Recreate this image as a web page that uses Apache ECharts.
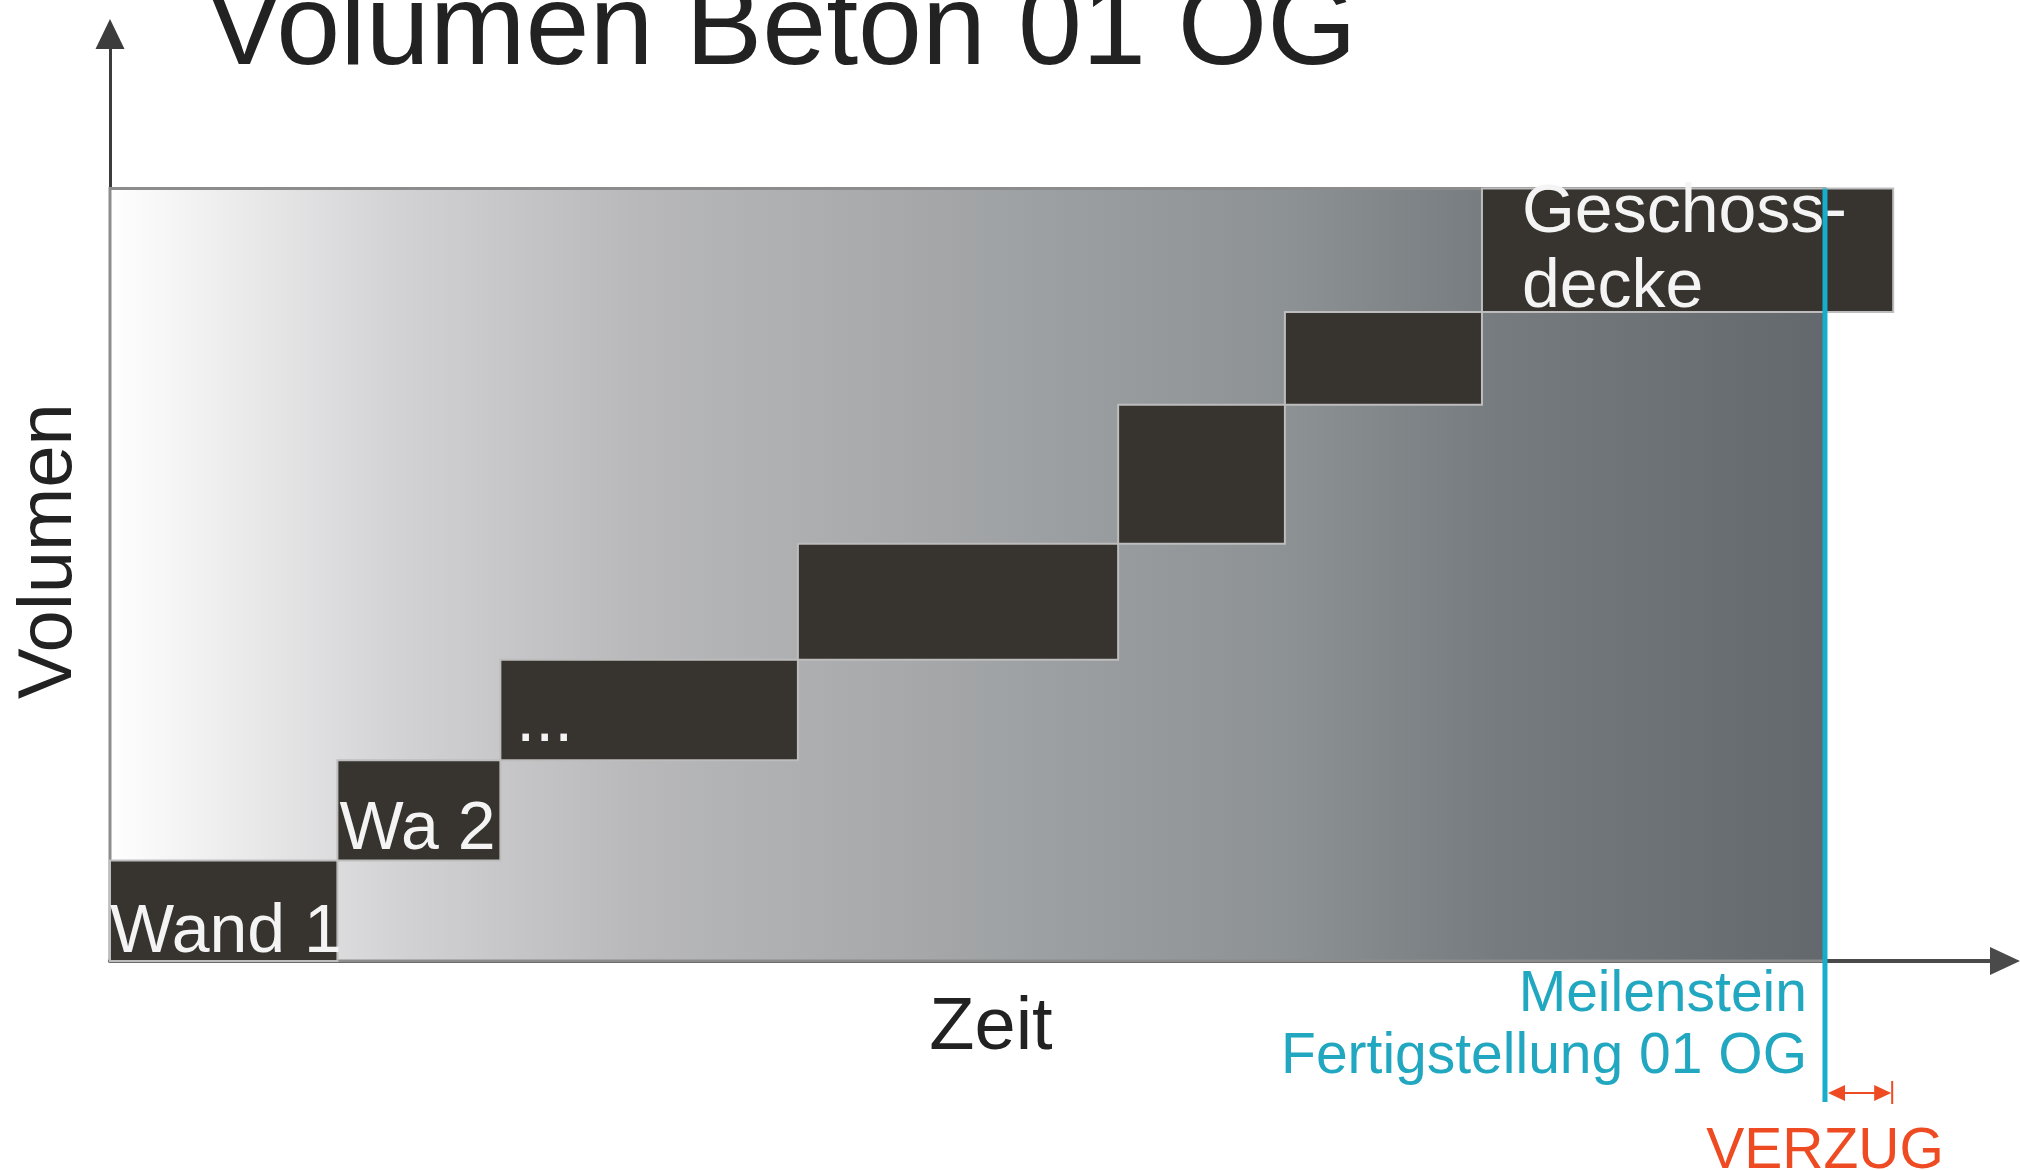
<!DOCTYPE html>
<html>
<head>
<meta charset="utf-8">
<title>Volumen Beton 01 OG</title>
<script src="https://cdn.jsdelivr.net/npm/echarts@6/dist/echarts.min.js"></script>
<style>
  html, body { margin: 0; padding: 0; background: #fff; }
  #chart { width: 2020px; height: 1170px; }
</style>
</head>
<body>
<div id="chart"></div>
<script>
// Bauabschnitte (Betonage) 01 OG
const taskNames = ['Wand 1', 'Wa 2', '...', '', '', '', 'Geschoss-\ndecke'];
const taskStart = [0, 12, 20.6, 36.3, 53.2, 62, 72.4];
const taskEnd = [12, 20.6, 36.3, 53.2, 62, 72.4, 94.1];
// kumuliertes Volumen in %
const volumeLevels = [0, 13, 26, 39, 54, 72, 84, 100];
const milestoneTime = 90.5;

const FONT = '"Liberation Sans", Arial, sans-serif';

// where each label sits inside its block
const labelPlace = [
  { dx: 0, dy: 10, fromTop: false },
  { dx: 2, dy: 7, fromTop: false },
  { dx: 16, dy: 0, fromTop: false },
  null, null, null,
  { dx: 40, dy: -13, fromTop: true }
];

const taskData = taskNames.map(function (n, i) {
  return [taskStart[i], taskEnd[i], volumeLevels[i], volumeLevels[i + 1]];
});

const chart = echarts.init(document.getElementById('chart'), null, { renderer: 'canvas' });

function renderBackground(params, api) {
  const p0 = api.coord([0, volumeLevels[volumeLevels.length - 1]]);
  const p1 = api.coord([milestoneTime, 0]);
  return {
    type: 'rect',
    shape: { x: p0[0], y: p0[1], width: p1[0] - p0[0], height: p1[1] - p0[1] },
    style: {
      fill: new echarts.graphic.LinearGradient(0, 0, 1, 0, [
        { offset: 0, color: '#ffffff' },
        { offset: 0.17, color: '#d2d2d4' },
        { offset: 0.31, color: '#b8b8ba' },
        { offset: 0.69, color: '#8c9193' },
        { offset: 0.81, color: '#757b7e' },
        { offset: 1, color: '#62686b' }
      ]),
      stroke: '#8c8c8c',
      lineWidth: 3
    }
  };
}

function renderTask(params, api) {
  const i = params.dataIndex;
  const p0 = api.coord([api.value(0), api.value(3)]);
  const p1 = api.coord([api.value(1), api.value(2)]);
  const r = { x: p0[0], y: p0[1], width: p1[0] - p0[0], height: p1[1] - p0[1] };
  const children = [{
    type: 'rect',
    shape: r,
    style: { fill: '#37332f', stroke: '#bdbdbd', lineWidth: 2 }
  }];
  const lp = labelPlace[i];
  if (taskNames[i] && lp) {
    children.push({
      type: 'text',
      z2: 10,
      style: {
        text: taskNames[i],
        x: r.x + lp.dx,
        y: (lp.fromTop ? r.y : r.y + r.height) + lp.dy,
        fill: '#f4f4f4',
        font: '68px ' + FONT,
        align: 'left',
        verticalAlign: lp.fromTop ? 'top' : 'bottom',
        lineHeight: 75
      }
    });
  }
  return { type: 'group', children: children };
}

function renderMilestone(params, api) {
  const top = api.coord([milestoneTime, volumeLevels[volumeLevels.length - 1]]);
  const base = api.coord([milestoneTime, 0]);
  const fin = api.coord([taskEnd[taskEnd.length - 1], 0]);
  const x = top[0];
  const ay = base[1] + 132;
  const orange = '#ee4b22';
  const cyan = '#16aecb';
  return {
    type: 'group',
    children: [
      { type: 'line', shape: { x1: x, y1: top[1], x2: x, y2: base[1] + 141 },
        style: { stroke: cyan, lineWidth: 5 } },
      { type: 'line', shape: { x1: x + 6, y1: ay, x2: fin[0] - 4, y2: ay },
        style: { stroke: orange, lineWidth: 2 } },
      { type: 'polygon', shape: { points: [[x + 3, ay], [x + 20, ay - 8], [x + 20, ay + 8]] },
        style: { fill: orange } },
      { type: 'polygon', shape: { points: [[fin[0] - 2, ay], [fin[0] - 19, ay - 8], [fin[0] - 19, ay + 8]] },
        style: { fill: orange } },
      { type: 'line', shape: { x1: fin[0] - 1, y1: ay - 12, x2: fin[0] - 1, y2: ay + 11 },
        style: { stroke: orange, lineWidth: 2 } },
      { type: 'text', style: {
          text: 'Meilenstein\nFertigstellung 01 OG', x: x - 18, y: base[1] + 3,
          fill: '#22a7c0', font: '57px ' + FONT, align: 'right', verticalAlign: 'top', lineHeight: 62 } },
      { type: 'text', style: {
          text: 'VERZUG', x: x, y: base[1] + 191,
          fill: orange, font: '57px ' + FONT, align: 'center', verticalAlign: 'middle' } }
    ]
  };
}

const option = {
  backgroundColor: '#ffffff',
  animation: false,
  grid: { left: 110, right: 15, top: 34, bottom: 209, containLabel: false },
  xAxis: {
    type: 'value', min: 0, max: 100,
    axisLine: { show: true, symbol: ['none', 'triangle'], symbolSize: [28, 30],
      lineStyle: { color: '#4a4a4a', width: 4 } },
    axisTick: { show: false }, axisLabel: { show: false }, splitLine: { show: false }
  },
  yAxis: {
    type: 'value', min: 0, max: 120,
    axisLine: { show: true, symbol: ['none', 'triangle'], symbolSize: [29, 30],
      lineStyle: { color: '#3c3c3c', width: 3 } },
    axisTick: { show: false }, axisLabel: { show: false }, splitLine: { show: false }
  },
  graphic: [
    { type: 'text', x: 206, y: 32, z: 100,
      style: { text: 'Volumen Beton 01 OG', fill: '#222', font: '115px ' + FONT,
        align: 'left', verticalAlign: 'middle' } },
    { type: 'text', x: 50, y: 551, rotation: Math.PI / 2, z: 100,
      style: { text: 'Volumen', fill: '#222', font: '76px ' + FONT,
        align: 'center', verticalAlign: 'middle' } },
    { type: 'text', x: 991, y: 1029, z: 100,
      style: { text: 'Zeit', fill: '#222', font: '74px ' + FONT,
        align: 'center', verticalAlign: 'middle' } }
  ],
  series: [
    { type: 'custom', name: 'Hintergrund', renderItem: renderBackground, data: [[0]], z: 1, silent: true },
    { type: 'custom', name: 'Betonage', renderItem: renderTask, data: taskData,
      encode: { x: [0, 1], y: [2, 3] }, z: 2, clip: false },
    { type: 'custom', name: 'Meilenstein', renderItem: renderMilestone, data: [[milestoneTime]],
      z: 3, clip: false, silent: true }
  ]
};

chart.setOption(option);
</script>
</body>
</html>
